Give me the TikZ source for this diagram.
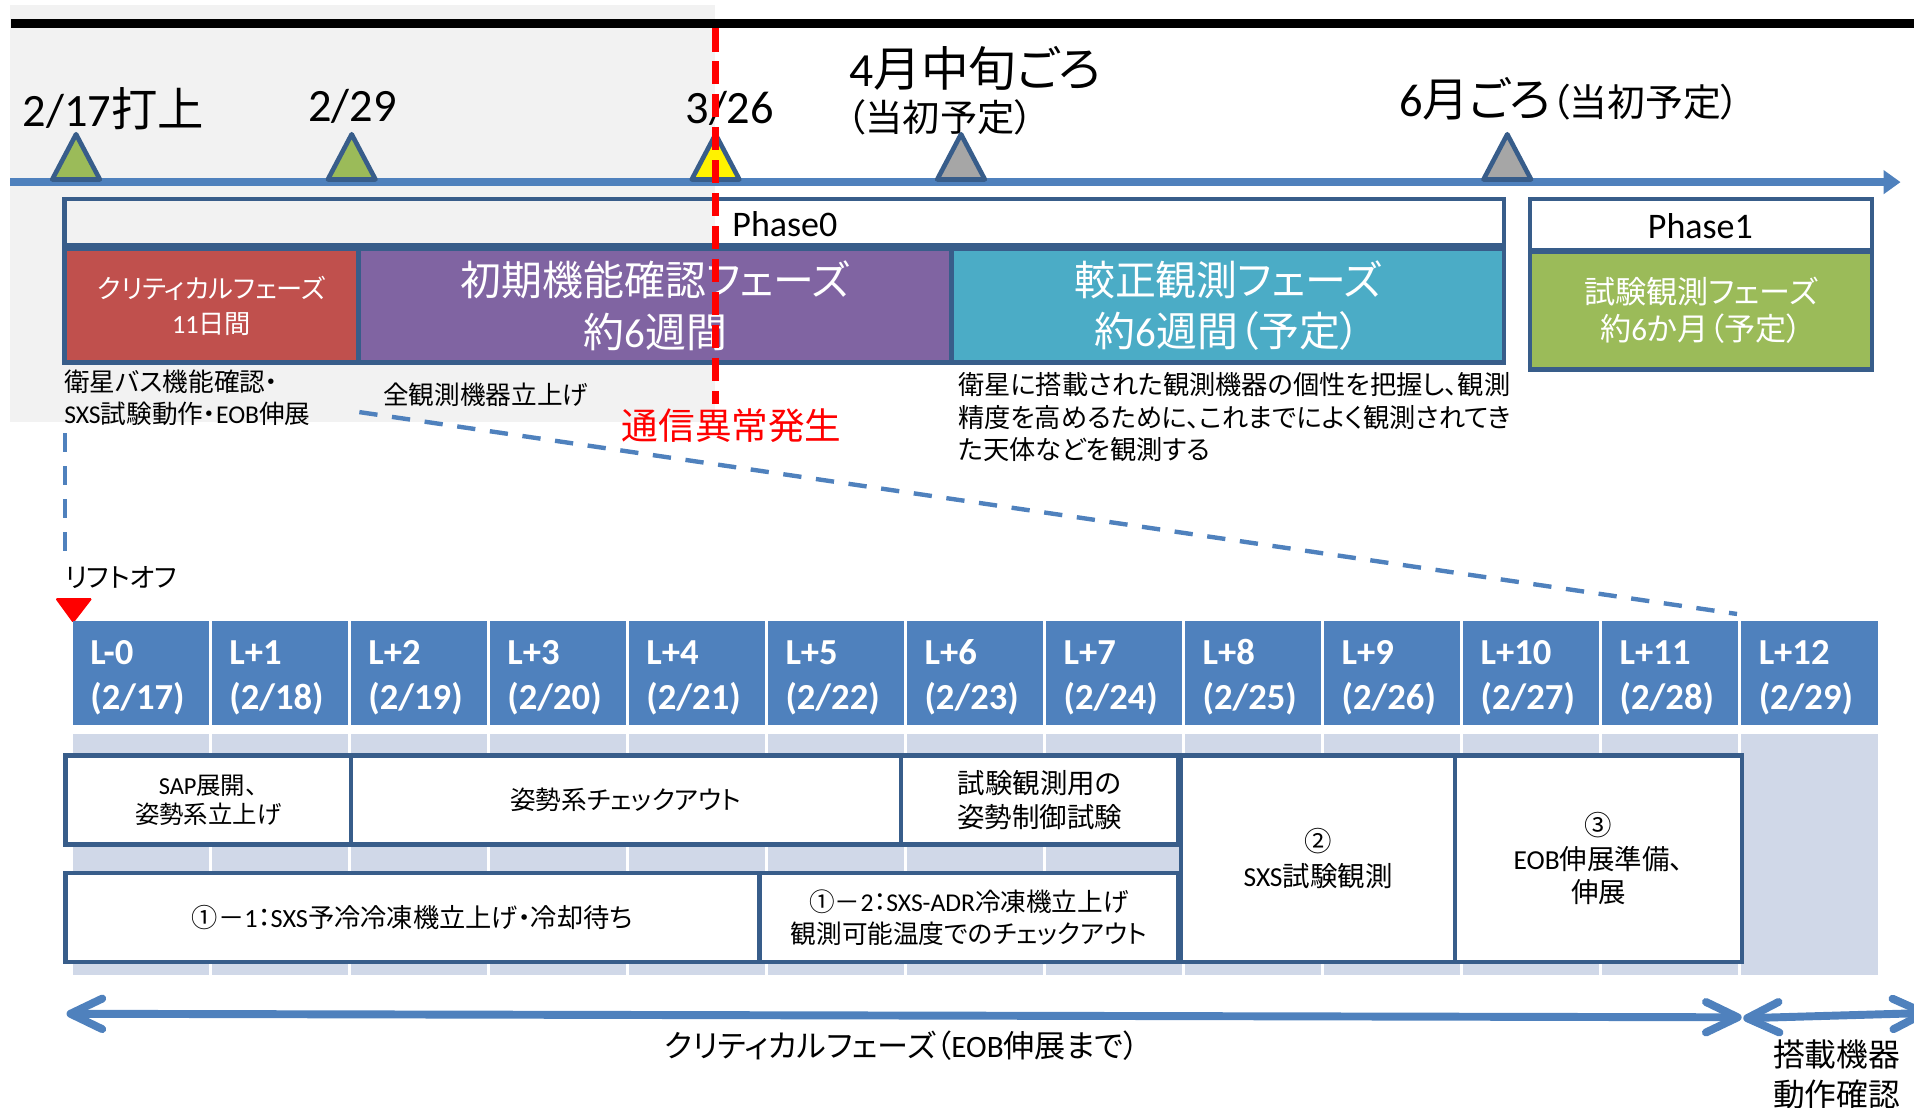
\documentclass[tikz,border=0pt]{standalone}
\usepackage{fontspec}
\setmainfont{Carlito}
\newfontfamily\jpfont[RawFeature=+palt]{Noto Sans CJK JP}
\usetikzlibrary{arrows.meta}
% automatic switch between Latin (Carlito) and Japanese (Noto Sans CJK JP)
\XeTeXinterchartokenstate=1
\chardef\JPcls=200
\makeatletter
\def\JPrange#1#2{\count@=#1\relax
  \loop\XeTeXcharclass\count@=\JPcls\relax
  \ifnum\count@<#2\relax\advance\count@\@ne\repeat}
\JPrange{"2460}{"24FF}
\JPrange{"3000}{"30FF}
\JPrange{"4E00}{"9FFF}
\JPrange{"FF00}{"FFEF}
\makeatother
\XeTeXinterchartoks 0 \JPcls = {\jpfont}
\XeTeXinterchartoks 4095 \JPcls = {\jpfont}
\XeTeXinterchartoks \JPcls 0 = {\rmfamily}
\XeTeXinterchartoks 4095 0 = {\rmfamily}

\definecolor{bdr}{HTML}{385D8A}
\definecolor{axb}{HTML}{4F81BD}
\definecolor{lbg}{HTML}{D0D8E8}
\definecolor{gbg}{HTML}{F2F2F2}
\definecolor{cred}{HTML}{C0504D}
\definecolor{cpur}{HTML}{8064A2}
\definecolor{ccya}{HTML}{4BACC6}
\definecolor{cgrn}{HTML}{9BBB59}
\definecolor{cgry}{HTML}{A6A6A6}
\definecolor{mkred}{HTML}{FF0000}

\newcommand\myfs[2]{\fontsize{#1}{#2}\selectfont}
\newcommand\mkmarker[2]{\draw[mk, fill=#2] (#1,147) ++(-19.5,0) -- ++(19.5,-37) -- ++(19.5,37) -- cycle;}

\tikzset{
  bx/.style={draw=bdr, line width=3.8pt, rectangle},
  phtxt/.style={text=white, align=center},
  actbox/.style={draw=bdr, line width=3.8pt, fill=white, rectangle, align=center},
  mk/.style={draw=bdr, line width=3.8pt, line join=round},
  bluedash/.style={draw=axb, line width=3.6pt, dash pattern=on 15pt off 12pt},
  reddash/.style={draw=mkred, line width=6.3pt, dash pattern=on 19pt off 8pt},
  bigarr/.style={draw=axb, line width=6.5pt,
    arrows={Straight Barb[length=26pt,width=25pt,round]-Straight Barb[length=26pt,width=25pt,round]}},
  datelbl/.style={font=\myfs{38}{46}},
}

\begin{document}
\begin{tikzpicture}[x=1pt,y=-1pt, every node/.style={inner sep=0pt, outer sep=0pt}]
\useasboundingbox (0,0) rectangle (1568,907);

% ---------- upper part ----------
\fill[gbg] (8.2,4) rectangle (585.8,345.4);
\coordinate (blkL) at (9,19.1);
\coordinate (blkR) at (1568,19.1);
\draw[line width=7pt] (blkL) -- (blkR);

\coordinate (axL) at (8.2,149.2);
\coordinate (axR) at (1557,149.2);
\draw[axb, line width=6.3pt, -{Triangle[length=14pt,width=19pt]}] (axL) -- (axR);

% phase boxes
\node[bx, minimum width=1179pt, minimum height=38pt] (ph0) at (642.5,182) {};
\node[anchor=base, font=\myfs{29.5}{35}] (ph0t) at (643,194) {Phase0};
\node[bx, fill=cred, phtxt, font=\myfs{21.5}{28.4}, minimum width=240.8pt, minimum height=93pt] (crit) at (173.4,250.5) {クリティカルフェーズ\\11日間};
\node[bx, fill=cpur, phtxt, font=\myfs{33.5}{42.5}, minimum width=485.9pt, minimum height=93pt] (init) at (536.75,250.5) {初期機能確認フェーズ\\約6週間};
\node[bx, fill=ccya, phtxt, font=\myfs{33.5}{41.6}, minimum width=452.3pt, minimum height=93pt] (cal) at (1005.85,250.5) {較正観測フェーズ\\約6週間（予定）};
\node[bx, minimum width=280.2pt, minimum height=42pt] (ph1) at (1393.6,184) {};
\node[anchor=base, font=\myfs{29.5}{35}] (ph1t) at (1393,195.2) {Phase1};
\node[bx, fill=cgrn, phtxt, font=\myfs{25.5}{30.5}, minimum width=280.2pt, minimum height=96pt] (tob) at (1393.6,254.5) {試験観測フェーズ\\約6か月（予定）};

% markers
\mkmarker{62.3}{cgrn}
\mkmarker{288.1}{cgrn}
\mkmarker{586.2}{yellow}
\mkmarker{787.3}{cgry}
\mkmarker{1234.8}{cgry}

% date labels
\node[datelbl, anchor=base west] (d217) at (18.6,103.3) {2/17打上};
\node[datelbl, anchor=base] (d229) at (288.8,99.7) {2/29};
\node[datelbl, anchor=base] (d326) at (597.8,101) {3/26};
\node[anchor=base west, font=\myfs{39}{47}] (apr) at (696,71) {4月中旬ごろ};
\node[anchor=base west, font=\myfs{30.5}{36}] (aprp) at (694,107.5) {（当初予定）};
\node[datelbl, anchor=base west] (jun) at (1146.3,95.6) {6月ごろ{\myfs{31}{37}（当初予定）}};

% notes under the phases
\node[anchor=west, align=left, font=\myfs{21}{26.6}] (bus) at (52.7,326) {衛星バス機能確認・\\SXS試験動作・EOB伸展};
\node[font=\myfs{21}{26}] (allon) at (398,323.5) {全観測機器立上げ};
\node[anchor=west, align=left, font=\myfs{21.5}{26.3}] (calnote) at (785,341.7) {衛星に搭載された観測機器の個性を把握し、観測\\精度を高めるために、これまでによく観測されてき\\た天体などを観測する};

% anomaly line
\coordinate (rd1) at (586.2,23.2);
\coordinate (rd2) at (586.2,331);
\draw[reddash] (rd1) -- (rd2);
\node[text=mkred, font=\myfs{30}{36}] (anom) at (599.4,349) {通信異常発生};

% zoom dashed lines
\coordinate (vd1) at (53.2,355);
\coordinate (vd2) at (53.2,451);
\draw[bluedash] (vd1) -- (vd2);
\coordinate (dg1) at (294.4,337.6);
\coordinate (dg2) at (1423,503);
\draw[bluedash] (dg1) -- (dg2);

% ---------- lower part ----------
\node[anchor=west, font=\myfs{22}{26}] (lift) at (53.2,473) {リフトオフ};
\fill[mkred, rounded corners=1.5pt] (45,490) -- (75.9,490) -- (60,510.6) -- cycle;

\foreach \i in {0,...,12}{
  \pgfmathsetmacro\xl{58.5+113.9*\i}
  \pgfmathtruncatemacro\dd{17+\i}
  \fill[lbg] (\xl+1.1,601) rectangle ++(111.7,198);
  \node[fill=axb, minimum width=111.7pt, minimum height=85.5pt, anchor=north west] (c\i) at (\xl+1.1,508.5) {};
  \node[anchor=base west, text=white, font=\bfseries\myfs{30}{36}] (la\i) at (\xl+15.5,544.6) {\ifnum\i=0 L-0\else L+\i\fi};
  \node[anchor=base west, text=white, font=\bfseries\myfs{30}{36}] (lb\i) at (\xl+15.5,581.6) {(2/\dd)};
}

% activity boxes
\node[actbox, font=\myfs{20}{24}, minimum width=233.9pt, minimum height=72.8pt] (sap) at (170.55,655.4) {SAP展開、\\姿勢系立上げ};
\node[actbox, font=\myfs{21}{26}, minimum width=450.5pt, minimum height=72.8pt] (att) at (512.75,655.4) {姿勢系チェックアウト};
\node[actbox, font=\myfs{22.5}{28}, minimum width=227.7pt, minimum height=72.8pt] (attc) at (851.85,655.4) {試験観測用の\\姿勢制御試験};
\node[actbox, font=\myfs{21.5}{26}, minimum width=568.4pt, minimum height=72.7pt] (cool1) at (337.8,751.65) {①－1：SXS予冷冷凍機立上げ・冷却待ち};
\node[actbox, font=\myfs{21}{26.7}, minimum width=343.7pt, minimum height=72.7pt] (cool2) at (793.85,751.65) {①－2：SXS-ADR冷凍機立上げ\\観測可能温度でのチェックアウト};
\node[actbox, font=\myfs{22.5}{29}, minimum width=224.5pt, minimum height=169pt] (sxs) at (1079.75,703.5) {②\\SXS試験観測};
\node[actbox, font=\myfs{22.5}{27.4}, minimum width=235pt, minimum height=169pt] (eob) at (1309.5,703.5) {③\\EOB伸展準備、\\伸展};

% bottom arrows
\coordinate (ba1) at (54.5,830.5);
\coordinate (ba2) at (1426.8,833.4);
\draw[bigarr] (ba1) -- (ba2);
\coordinate (bb1) at (1428.1,834.2);
\coordinate (bb2) at (1580,829.8);
\draw[bigarr] (bb1) -- (bb2);
\node[font=\myfs{25.5}{30}] (critlbl) at (738.8,856.4) {クリティカルフェーズ（EOB伸展まで）};
\node[align=center, font=\myfs{26}{32.5}] (mount) at (1504.6,880.5) {搭載機器\\動作確認};
\end{tikzpicture}
\end{document}
